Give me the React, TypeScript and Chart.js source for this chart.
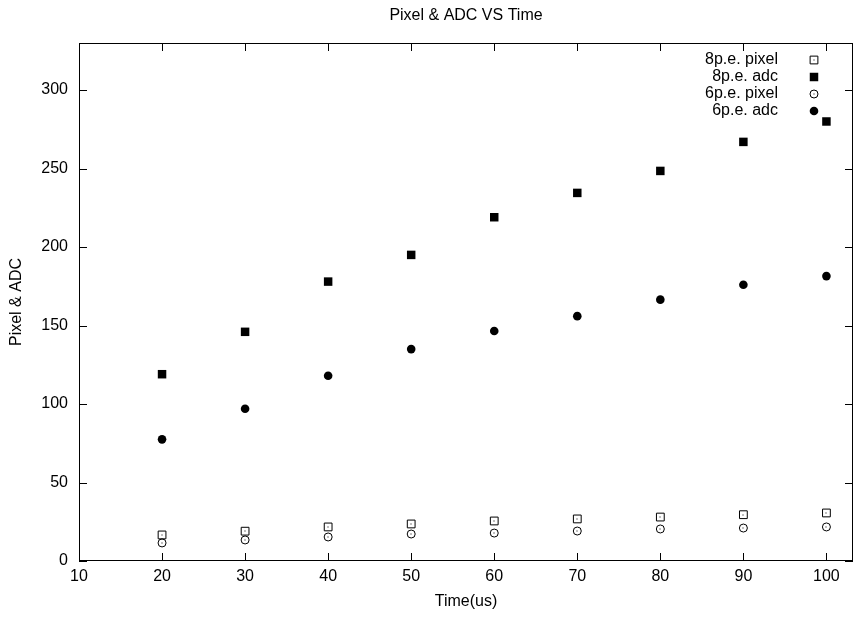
import React, { useEffect, useRef } from "react";
import { Chart, registerables } from "chart.js";

Chart.register(...registerables);

const timeUs = [20, 30, 40, 50, 60, 70, 80, 90, 100];
const pixel8 = [16.6, 19, 21.7, 23.6, 25.5, 26.8, 28, 29.5, 30.6];
const adc8 = [119, 146, 178, 195, 219, 234.5, 248.5, 267, 280];
const pixel6 = [11.5, 13.4, 15.3, 17.2, 17.8, 19.1, 20.4, 21, 21.7];
const adc6 = [77.5, 97, 118, 135, 146.5, 156, 166.5, 176, 181.5];
const seriesLabels = ["8p.e. pixel", "8p.e. adc", "6p.e. pixel", "6p.e. adc"];
const xTicks = [10, 20, 30, 40, 50, 60, 70, 80, 90, 100];
const yTicks = [0, 50, 100, 150, 200, 250, 300];
const chartTitle = "Pixel & ADC VS Time";

const FONT = "'Liberation Sans', Arial, sans-serif";
const FS = 16;

function drawMarker(ctx: CanvasRenderingContext2D, style: string, filled: boolean, x: number, y: number, r: number, dot: boolean) {
  ctx.save();
  ctx.beginPath();
  if (style === "rect") {
    const s = Math.SQRT1_2 * r;
    ctx.rect(x - s, y - s, 2 * s, 2 * s);
  } else {
    ctx.arc(x, y, r, 0, Math.PI * 2);
  }
  if (filled) {
    ctx.fillStyle = "#000";
    ctx.fill();
  } else {
    ctx.strokeStyle = "#000";
    ctx.lineWidth = 1;
    ctx.stroke();
  }
  if (dot) {
    ctx.fillStyle = "#000";
    ctx.fillRect(x - 0.5, y - 0.5, 1, 1);
  }
  ctx.restore();
}

const framePlugin = {
  id: "frame",
  afterLayout(chart: any) {
    // stretch plot area to the right edge like the reference
    const a = chart.chartArea;
    const x = chart.scales.x;
    const R = chart.width - 1;
    a.right = R;
    a.width = R - a.left;
    x.right = R;
    x.width = R - x.left;
    x.configure();
  },
  afterDraw(chart: any) {
    const { ctx, chartArea: a, scales } = chart;
    ctx.save();
    ctx.strokeStyle = "#000";
    ctx.lineWidth = 1;
    ctx.strokeRect(a.left + 0.5, a.top + 0.5, a.right - a.left - 1, a.bottom - a.top - 1);
    const tl = 8;
    ctx.beginPath();
    scales.x.ticks.forEach((t: any) => {
      const px = Math.round(scales.x.getPixelForValue(t.value)) + 0.5;
      ctx.moveTo(px, a.bottom);
      ctx.lineTo(px, a.bottom - tl);
      ctx.moveTo(px, a.top);
      ctx.lineTo(px, a.top + tl);
    });
    scales.y.ticks.forEach((t: any) => {
      const py = Math.round(scales.y.getPixelForValue(t.value)) + 0.5;
      ctx.moveTo(a.left, py);
      ctx.lineTo(a.left + tl, py);
      ctx.moveTo(a.right, py);
      ctx.lineTo(a.right - tl, py);
    });
    ctx.stroke();

    chart.data.datasets.forEach((ds: any, i: number) => {
      if (!ds.centerDot) return;
      const meta = chart.getDatasetMeta(i);
      ctx.fillStyle = "#000";
      meta.data.forEach((el: any) => {
        ctx.fillRect(Math.round(el.x) - 0.5, Math.round(el.y) - 0.5, 1, 1);
      });
    });

    ctx.font = `${FS}px ${FONT}`;
    ctx.fillStyle = "#000";
    ctx.textBaseline = "middle";
    ctx.textAlign = "center";
    ctx.fillText(chartTitle, (a.left + a.right) / 2, 16);

    ctx.textAlign = "right";
    chart.data.datasets.forEach((ds: any, i: number) => {
      const y = a.top + 17 + i * 17;
      ctx.fillText(ds.label, a.right - 75, y);
      drawMarker(ctx, ds.pointStyle, ds.filled, a.right - 39, y, ds.pointRadius, !!ds.centerDot);
    });
    ctx.restore();
  },
};

export default function App() {
  const ref = useRef<HTMLCanvasElement | null>(null);
  useEffect(() => {
    if (!ref.current) return;
    const mk = (vals: number[]) => timeUs.map((x, i) => ({ x, y: vals[i] }));
    const chart = new Chart(ref.current, {
      type: "scatter",
      data: {
        datasets: [
          { label: seriesLabels[0], data: mk(pixel8), pointStyle: "rect", pointRadius: 5.5, borderColor: "#000", backgroundColor: "rgba(0,0,0,0)", borderWidth: 1, filled: false, centerDot: true } as any,
          { label: seriesLabels[1], data: mk(adc8), pointStyle: "rect", pointRadius: 6, borderColor: "#000", backgroundColor: "#000", borderWidth: 0, filled: true } as any,
          { label: seriesLabels[2], data: mk(pixel6), pointStyle: "circle", pointRadius: 4, borderColor: "#000", backgroundColor: "rgba(0,0,0,0)", borderWidth: 1, filled: false, centerDot: true } as any,
          { label: seriesLabels[3], data: mk(adc6), pointStyle: "circle", pointRadius: 4.3, borderColor: "#000", backgroundColor: "#000", borderWidth: 0, filled: true } as any,
        ],
      },
      options: {
        animation: false,
        responsive: false,
        maintainAspectRatio: false,
        events: [],
        layout: { padding: { left: 0, right: 1, top: 43, bottom: 0 } },
        plugins: {
          legend: { display: false },
          tooltip: { enabled: false },
          title: { display: false },
        },
        scales: {
          x: {
            type: "linear",
            min: 10,
            max: 103.2,
            afterBuildTicks(s: any) { s.ticks = xTicks.map((v) => ({ value: v })); },
            afterFit(s: any) { s.height = 56; },
            grid: { display: false, drawTicks: false },
            border: { display: false },
            ticks: { color: "#000", padding: 6, font: { family: FONT, size: FS }, maxRotation: 0, autoSkip: false },
            title: { display: true, text: "Time(us)", color: "#000", font: { family: FONT, size: FS }, padding: { top: 0, bottom: 6 } },
          },
          y: {
            type: "linear",
            min: 0,
            max: 330,
            afterBuildTicks(s: any) { s.ticks = yTicks.map((v) => ({ value: v })); },
            afterFit(s: any) { s.width = 79; },
            grid: { display: false, drawTicks: false },
            border: { display: false },
            ticks: { color: "#000", padding: 11, font: { family: FONT, size: FS }, autoSkip: false },
            title: { display: true, text: "Pixel & ADC", color: "#000", font: { family: FONT, size: FS }, padding: { top: 7, bottom: 0 } },
          },
        },
      },
      plugins: [framePlugin],
    } as any);
    return () => chart.destroy();
  }, []);
  return (
    <div style={{ position: "fixed", left: 0, top: 0, width: 854, height: 617, background: "#fff" }}>
      <canvas ref={ref} width={854} height={617} style={{ width: 854, height: 617, display: "block" }} />
    </div>
  );
}
